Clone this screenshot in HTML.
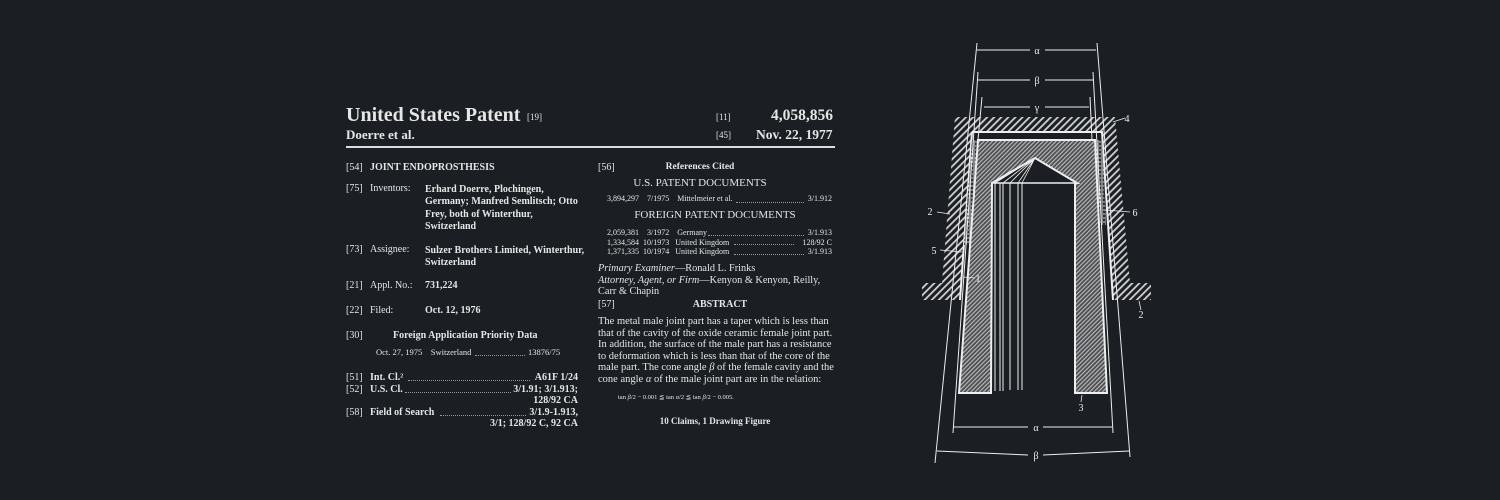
<!DOCTYPE html>
<html><head><meta charset="utf-8"><style>
html,body{margin:0;padding:0;background:#1b1e23;}
#p{position:relative;width:1500px;height:500px;overflow:hidden;background:#1b1e23;color:#e6e6e6;font-family:"Liberation Serif",serif;}
.t{position:absolute;white-space:nowrap;line-height:1;font-size:10px;}
.b{font-weight:bold;}
.c{text-align:center;}
.d{position:absolute;height:0;border-bottom:1px dotted #999;}
svg{position:absolute;left:0;top:0;}
</style></head><body><div id="p">
<div class="t b" style="left:346px;top:105px;font-size:20px;">United States Patent</div>
<div class="t" style="left:527px;top:113px;font-size:9px;">[19]</div>
<div class="t b" style="left:346px;top:128px;font-size:13px;">Doerre et al.</div>
<div class="t" style="left:716px;top:113px;font-size:9px;">[11]</div>
<div class="t b" style="left:771px;top:108px;font-size:15.5px;">4,058,856</div>
<div class="t" style="left:716px;top:131px;font-size:9px;">[45]</div>
<div class="t b" style="left:756px;top:128px;font-size:13.5px;">Nov. 22, 1977</div>
<div style="position:absolute;left:346px;top:146px;width:489px;height:2px;background:#ddd;"></div>

<div class="t" style="left:346px;top:163px;">[54]</div><div class="t b" style="left:370px;top:163px;">JOINT ENDOPROSTHESIS</div>
<div class="t" style="left:346px;top:184px;">[75]</div><div class="t" style="left:370px;top:184px;">Inventors:</div>
<div class="t b" style="left:425px;top:184px;line-height:12.3px;">Erhard Doerre, Plochingen,<br>Germany; Manfred Semlitsch; Otto<br>Frey, both of Winterthur,<br>Switzerland</div>
<div class="t" style="left:346px;top:245px;">[73]</div><div class="t" style="left:370px;top:245px;">Assignee:</div>
<div class="t b" style="left:425px;top:245px;line-height:12.3px;">Sulzer Brothers Limited, Winterthur,<br>Switzerland</div>
<div class="t" style="left:346px;top:281px;">[21]</div><div class="t" style="left:370px;top:281px;">Appl. No.:</div><div class="t b" style="left:425px;top:281px;">731,224</div>
<div class="t" style="left:346px;top:306px;">[22]</div><div class="t" style="left:370px;top:306px;">Filed:</div><div class="t b" style="left:425px;top:306px;">Oct. 12, 1976</div>
<div class="t" style="left:346px;top:331px;">[30]</div><div class="t b" style="left:393px;top:331px;">Foreign Application Priority Data</div>
<div class="t" style="left:376px;top:348px;font-size:8.5px;">Oct. 27, 1975&nbsp;&nbsp;&nbsp;&nbsp;Switzerland</div>
<div class="d" style="left:475px;width:50px;top:355px;"></div>
<div class="t" style="left:528px;top:348px;font-size:8.5px;">13876/75</div>
<div class="t" style="left:346px;top:372px;line-height:11.5px;">[51]<br>[52]<br><br>[58]</div>
<div class="t b" style="left:370px;top:372px;line-height:11.5px;">Int. Cl.²<br>U.S. Cl.<br><br>Field of Search</div>
<div class="d" style="left:408px;width:122px;top:380px;"></div>
<div class="d" style="left:405px;width:106px;top:392px;"></div>
<div class="d" style="left:440px;width:86px;top:415px;"></div>
<div class="t b" style="left:480px;top:372px;width:98px;text-align:right;line-height:11.5px;">A61F 1/24<br>3/1.91; 3/1.913;<br>128/92 CA<br>3/1.9-1.913,<br>3/1; 128/92 C, 92 CA</div>

<div class="t" style="left:598px;top:163px;">[56]</div>
<div class="t b c" style="left:620px;width:160px;top:163px;font-size:9.5px;">References Cited</div>
<div class="t c" style="left:600px;width:200px;top:178px;font-size:11px;">U.S. PATENT DOCUMENTS</div>
<div class="t" style="left:607px;top:195px;font-size:8px;">3,894,297&nbsp;&nbsp;&nbsp;&nbsp;7/1975&nbsp;&nbsp;&nbsp;&nbsp;Mittelmeier et al.</div>
<div class="d" style="left:736px;width:68px;top:202px;"></div>
<div class="t" style="left:760px;width:72px;text-align:right;top:195px;font-size:8px;">3/1.912</div>
<div class="t c" style="left:600px;width:230px;top:210px;font-size:11px;">FOREIGN PATENT DOCUMENTS</div>
<div class="t" style="left:607px;top:228px;font-size:8px;line-height:9.6px;">2,059,381&nbsp;&nbsp;&nbsp;&nbsp;3/1972&nbsp;&nbsp;&nbsp;&nbsp;Germany<br>1,334,584&nbsp;&nbsp;10/1973&nbsp;&nbsp;&nbsp;United Kingdom<br>1,371,335&nbsp;&nbsp;10/1974&nbsp;&nbsp;&nbsp;United Kingdom</div>
<div class="d" style="left:708px;width:96px;top:235px;"></div>
<div class="d" style="left:734px;width:60px;top:244px;"></div>
<div class="d" style="left:734px;width:70px;top:254px;"></div>
<div class="t" style="left:760px;width:72px;text-align:right;top:228px;font-size:8px;line-height:9.6px;">3/1.913<br>128/92 C<br>3/1.913</div>
<div class="t" style="left:598px;top:263px;line-height:11.5px;font-size:10.3px;"><i>Primary Examiner</i>—Ronald L. Frinks<br><i>Attorney, Agent, or Firm</i>—Kenyon &amp; Kenyon, Reilly,<br>Carr &amp; Chapin</div>
<div class="t" style="left:598px;top:300px;">[57]</div>
<div class="t b c" style="left:660px;width:120px;top:300px;">ABSTRACT</div>
<div class="t" style="left:598px;top:316px;line-height:11.5px;font-size:10.5px;">The metal male joint part has a taper which is less than<br>that of the cavity of the oxide ceramic female joint part.<br>In addition, the surface of the male part has a resistance<br>to deformation which is less than that of the core of the<br>male part. The cone angle <i>β</i> of the female cavity and the<br>cone angle <i>α</i> of the male joint part are in the relation:</div>
<div class="t" style="left:618px;top:395px;font-size:6.5px;">tan <i>β</i>/2 − 0.001 ≦ tan <i>α</i>/2 ≦ tan <i>β</i>/2 − 0.005.</div>
<div class="t b c" style="left:640px;width:150px;top:417px;font-size:9px;">10 Claims, 1 Drawing Figure</div>

<svg width="1500" height="500" viewBox="0 0 1500 500">
<defs>
<pattern id="h1" width="5" height="5" patternUnits="userSpaceOnUse" patternTransform="rotate(45)"><rect width="5" height="5" fill="#1b1e23"/><rect width="1.8" height="5" fill="#d0d0d0"/></pattern>
<pattern id="h2" width="3" height="3" patternUnits="userSpaceOnUse" patternTransform="rotate(45)"><rect width="3" height="3" fill="#4a4c50"/><rect width="1.2" height="3" fill="#b8b8b8"/></pattern>
<pattern id="d1" width="4" height="4" patternUnits="userSpaceOnUse"><rect width="4" height="4" fill="#1b1e23"/><circle cx="2" cy="2" r="1.2" fill="none" stroke="#ddd" stroke-width="0.8"/></pattern>
</defs>
<g stroke="#eee" fill="none" stroke-width="1.2">
<path d="M955,117 L1115,117 L1130,283 L1151,283 L1151,300 L1113,300 L1102,132 L972,132 L960,300 L922,300 L922,283 L942,283 Z" fill="url(#h1)" stroke="none"/>
<path d="M972,132 L1102,132 L1113,300" stroke-width="2"/>
<path d="M972,132 L960,300" stroke-width="2"/>
<path d="M972,140 L978,140 L970,245 L964,245 Z" fill="url(#d1)" stroke="none"/>
<path d="M1095,140 L1102,140 L1106,225 L1100,225 Z" fill="url(#d1)" stroke="none"/>
<path d="M978,140 L1095,140 L1107,393 L1075,393 L1075,183 L1077,183 L1035,158 L992,183 L991,393 L959,393 Z" fill="url(#h2)" stroke="#eee" stroke-width="2"/>
<path d="M992,183 L1077,183" stroke-width="1.5"/>
<path d="M995,183 V391 M1000,183 V391 M1003,183 V391 M1010,183 V390 M1018,183 V390 M1022,183 V390" stroke-width="1"/>
<path d="M1035,158 L995,183 M1035,158 L1003,183 M1035,158 L1010,183 M1035,158 L1018,183 M1035,158 L1022,183" stroke-width="0.8"/>
<path d="M977,43 L935,463 M1097,43 L1130,457" stroke-width="1"/>
<path d="M978,72 L953,433 M1093,72 L1113,433" stroke-width="1"/>
<path d="M982,97 L978,140 M1090,97 L1092,140" stroke-width="1"/>
<path d="M977,50 L1030,50 M1045,50 L1096,50" stroke-width="1"/>
<path d="M978,80 L1030,80 M1045,80 L1093,80" stroke-width="1"/>
<path d="M984,107 L1030,107 M1045,107 L1089,107" stroke-width="1"/>
<path d="M954,427 L1028,427 M1043,427 L1112,427" stroke-width="1"/>
<path d="M937,451 L1028,455 M1043,455 L1129,451" stroke-width="1"/>
<path d="M937,212 L950,214 M940,250 L962,252 M963,277 L975,278 M1113,122 L1125,118 M1105,210 L1130,212 M1139,301 L1141,310 M1082,395 L1081,402" stroke-width="0.8"/>
</g>
<g fill="#eee" font-family="Liberation Serif, serif" font-size="10" text-anchor="middle">
<text x="1037" y="54">α</text><text x="1037" y="84">β</text><text x="1037" y="111">γ</text>
<text x="1036" y="431">α</text><text x="1036" y="459">β</text>
<text x="930" y="215">2</text><text x="934" y="254">5</text><text x="978" y="282">1</text>
<text x="1127" y="122">4</text><text x="1135" y="216">6</text><text x="1141" y="318">2</text><text x="1081" y="411">3</text>
</g>
</svg>
</div></body></html>
